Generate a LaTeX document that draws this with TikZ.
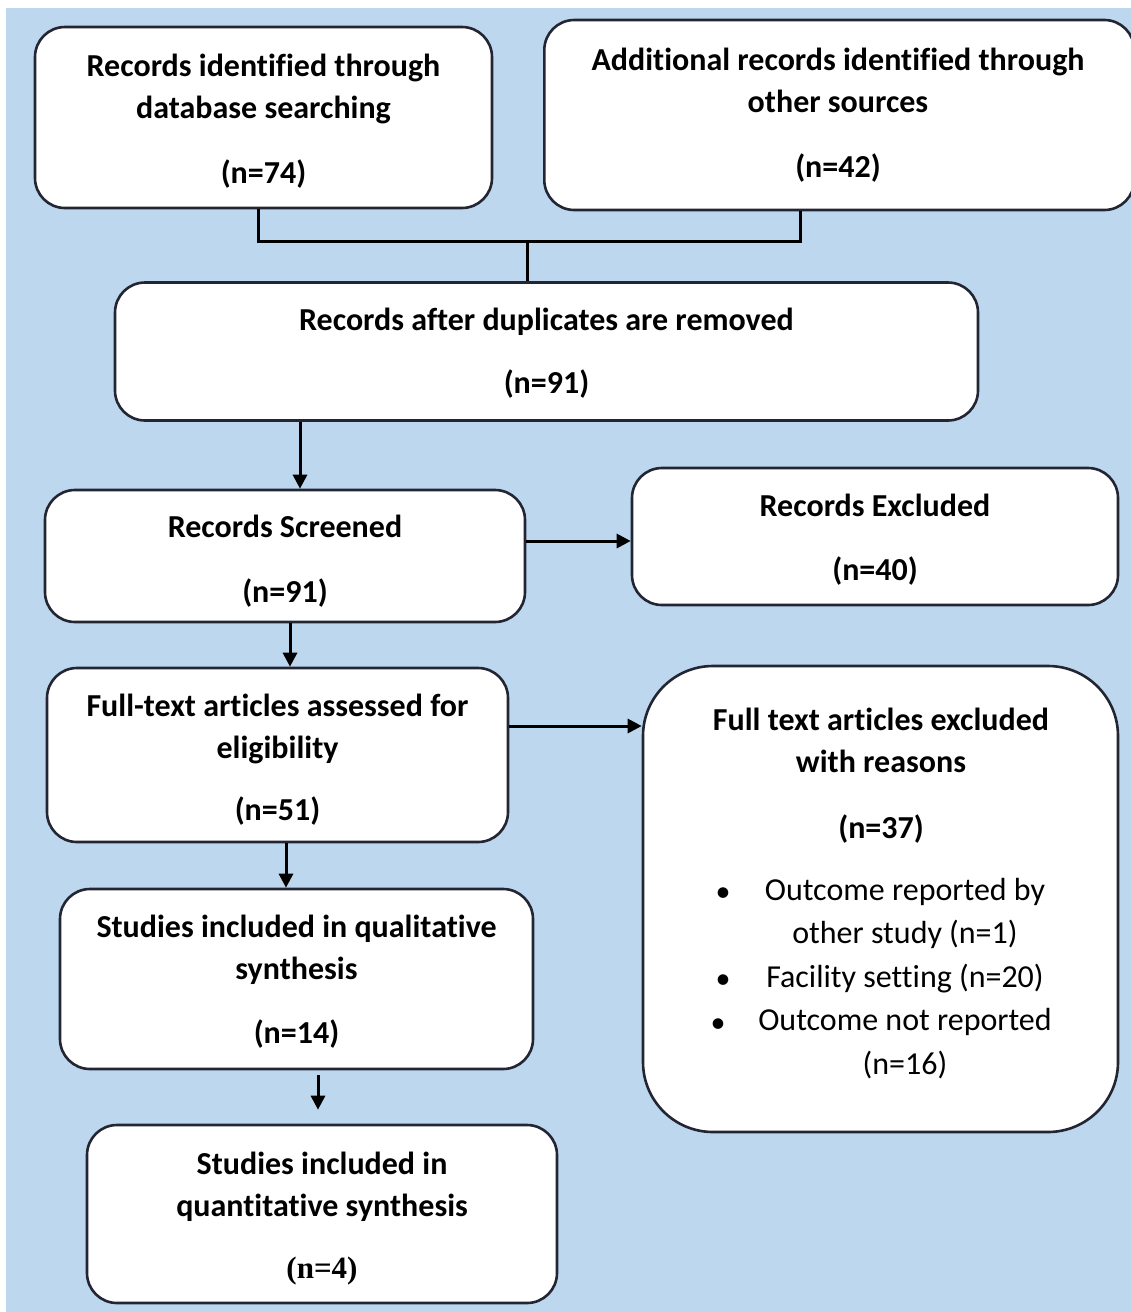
\documentclass[tikz,border=0pt]{standalone}
\usepackage{fontspec}
\setmainfont{Carlito}[Ligatures=NoCommon]
\newfontfamily\timesfont{Liberation Serif}
\usetikzlibrary{arrows.meta}
\definecolor{bgblue}{RGB}{189,215,238}
\definecolor{edge}{RGB}{35,38,50}
\begin{document}
\begin{tikzpicture}[x=1pt,y=-1pt,
  box/.style={draw=edge,line width=2.6pt,fill=white,rounded corners=30pt,inner sep=0pt},
  lbl/.style={inner sep=0pt,align=center,font=\bfseries\fontsize{32}{42}\selectfont},
  conn/.style={draw=black,line width=3pt},
  arr/.style={conn,-{Triangle[length=14pt,width=14pt]}},
  txt/.style={inner sep=0pt,align=center},
]
\useasboundingbox (0,0) rectangle (1131,1312);
\fill[white] (0,0) rectangle (1131,1312);
\fill[bgblue] (6,8) rectangle (1131,1312);

% boxes
\node[box,minimum width=457pt,minimum height=181pt] (b1) at (263.5,117.5) {};
\node[box,minimum width=590pt,minimum height=190pt,anchor=west] (b2) at (543,115) {};
\node[box,minimum width=863pt,minimum height=138pt] (b3) at (546.5,351.5) {};
\node[box,minimum width=480pt,minimum height=132pt] (b4) at (285,556) {};
\node[box,minimum width=486pt,minimum height=137pt] (b5) at (875,536.5) {};
\node[box,minimum width=461pt,minimum height=174pt] (b6) at (277.5,755) {};
\node[box,rounded corners=70pt,minimum width=475pt,minimum height=466pt] (b7) at (880.5,899) {};
\node[box,minimum width=473pt,minimum height=180pt] (b8) at (296.5,979) {};
\node[box,minimum width=470pt,minimum height=178pt] (b9) at (322,1214) {};

% texts
\node[lbl] (t1) at ([yshift=-4pt]b1.center)
  {Records identified through\\database searching\\[23pt](n=74)};
\node[lbl] (t2) at (838,115)
  {Additional records identified through\\other sources\\[23pt](n=42)};
\node[lbl] (t3) at ([yshift=-2pt]b3.center)
  {Records after duplicates are removed\\[21pt](n=91)};
\node[lbl] (t4) at ([yshift=-5pt]b4.center)
  {Records Screened\\[23pt](n=91)};
\node[lbl] (t5) at ([yshift=-3pt]b5.center)
  {Records Excluded\\[22pt](n=40)};
\node[lbl] (t6) at ([yshift=-5pt]b6.center)
  {Full-text articles assessed for\\eligibility\\[20pt](n=51)};
\node[lbl] (t8) at ([yshift=-3pt]b8.center)
  {Studies included in qualitative\\synthesis\\[22pt](n=14)};
\node[lbl] (t9) at ([yshift=-5pt]b9.center)
  {Studies included in\\quantitative synthesis\\[20pt]{\timesfont\bfseries\fontsize{31}{42}\selectfont(n=4)}};

% contents of the excluded box
\node[lbl,anchor=north] (exhead) at (881,708)
  {Full text articles excluded\\with reasons\\[24pt](n=37)};
\node[txt,font=\fontsize{32}{43.5}\selectfont,anchor=north] (exlist) at (905,878)
  {Outcome reported by\\other study (n=1)\\Facility setting (n=20)\\Outcome not reported\\(n=16)};
\node[txt,font=\fontsize{30}{40}\selectfont] (bu1) at (723,895) {•};
\node[txt,font=\fontsize{30}{40}\selectfont] (bu2) at (723,982) {•};
\node[txt,font=\fontsize{30}{40}\selectfont] (bu3) at (718,1026) {•};

% bracket joining the two top boxes
\coordinate (j1) at (258,241);
\coordinate (j2) at (800,241);
\coordinate (jm) at (527,241);
\draw[conn,line cap=butt] (b1.south -| j1) -- (j1) -- (j2) -- (b2.south -| j2);
\draw[conn] (jm) -- (b3.north -| jm);

% arrows
\coordinate (a1) at (300,0);
\draw[arr] (b3.south -| a1) -- (b4.north -| a1);
\coordinate (a2) at (0,541);
\draw[arr] (b4.east |- a2) -- (b5.west |- a2);
\coordinate (a3) at (290,0);
\draw[arr] (b4.south -| a3) -- (b6.north -| a3);
\coordinate (a4) at (0,726);
\draw[arr] (b6.east |- a4) -- (b7.west |- a4);
\coordinate (a5) at (286,0);
\draw[arr] (b6.south -| a5) -- (b8.north -| a5);
\coordinate (a6) at (318,0);
\draw[arr] ([yshift=-5pt]b8.south -| a6) -- ([yshift=14pt]b9.north -| a6);
\end{tikzpicture}
\end{document}
